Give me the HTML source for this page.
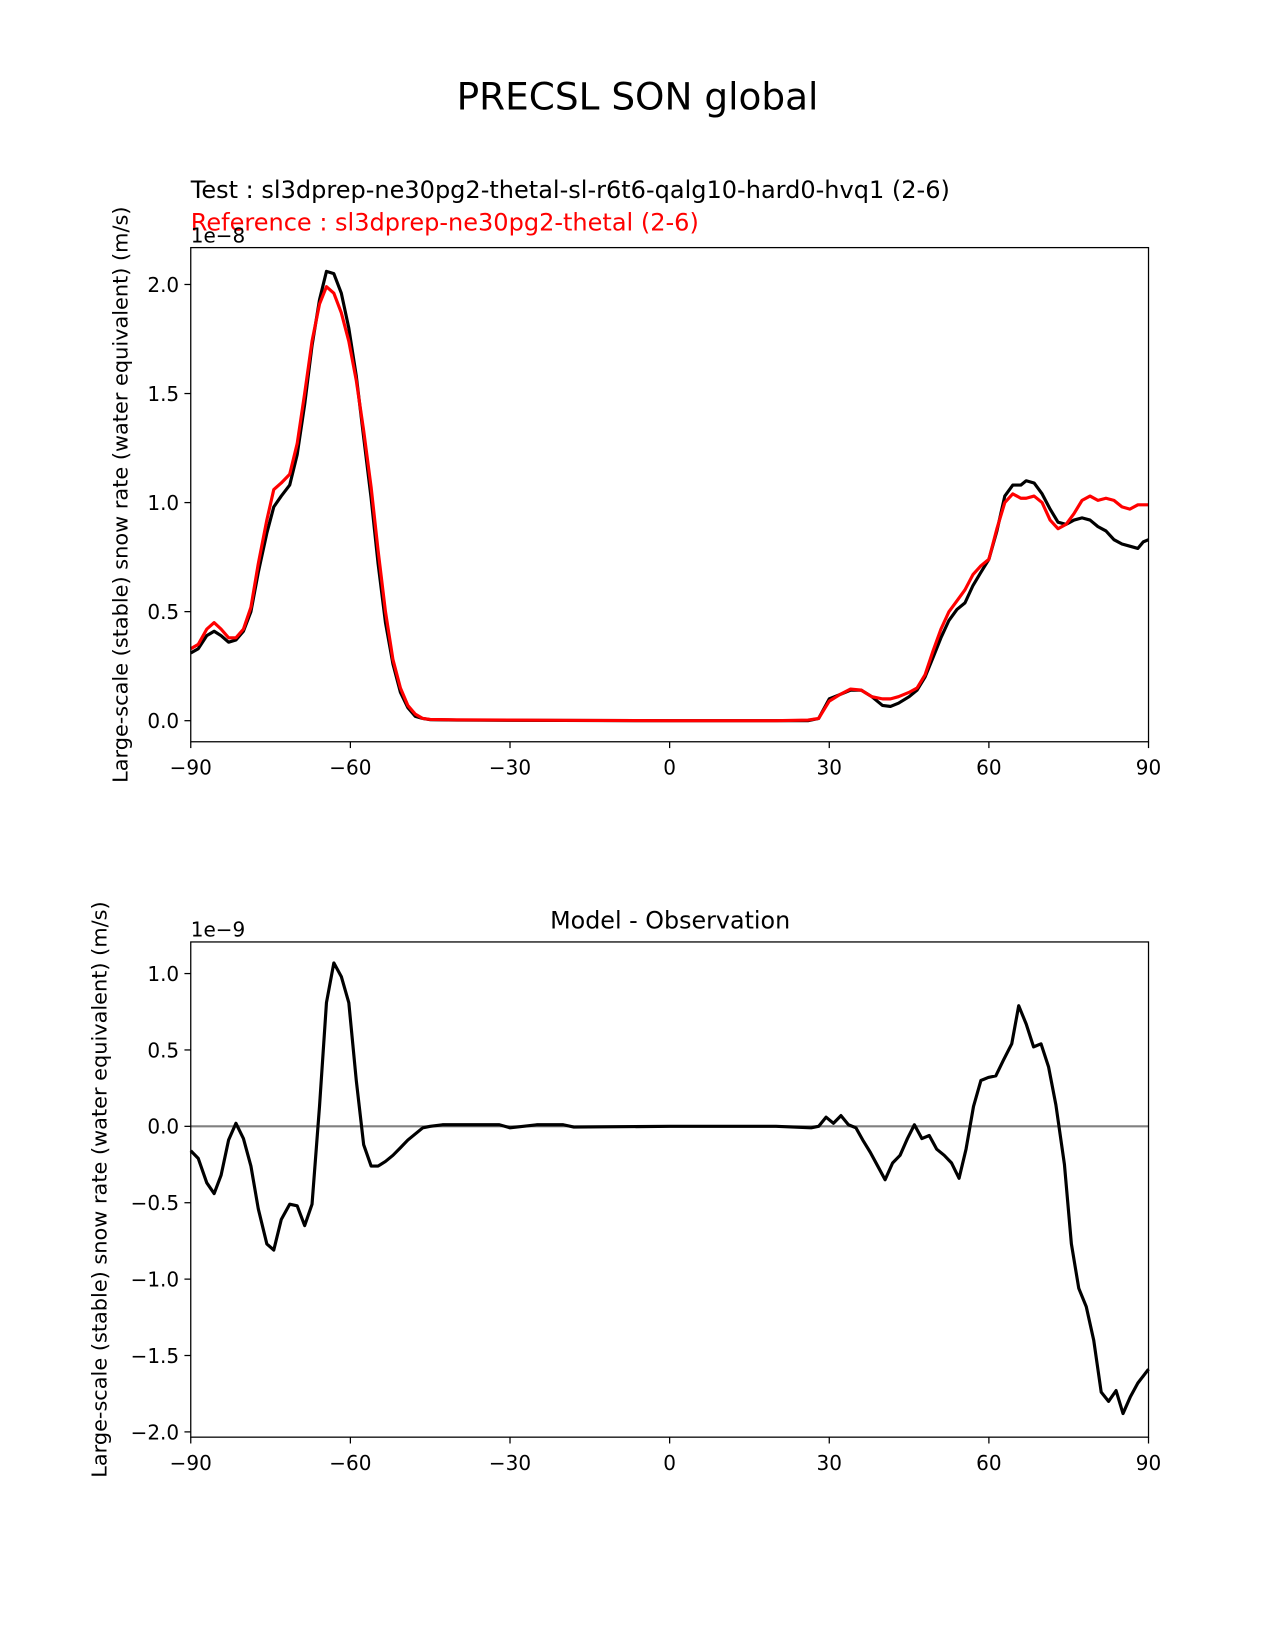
<!DOCTYPE html>
<html><head><meta charset="utf-8"><style>
html,body{margin:0;padding:0;background:#fff;}
svg{display:block;font-family:"DejaVu Sans","Liberation Sans",sans-serif;}
</style></head><body>
<svg id="fig" width="1275" height="1650" viewBox="0 0 1210 1566" xmlns="http://www.w3.org/2000/svg">
<rect width="1210" height="1566" fill="#fff"/>
<text x="605" y="104" font-size="35.5" text-anchor="middle">PRECSL SON global</text>
<text x="181" y="188" font-size="22.8">Test : sl3dprep-ne30pg2-thetal-sl-r6t6-qalg10-hard0-hvq1 (2-6)</text>
<text x="181" y="219" font-size="22.8" fill="#ff0000">Reference : sl3dprep-ne30pg2-thetal (2-6)</text>
<text x="636" y="881" font-size="22.6" text-anchor="middle">Model - Observation</text>
<g id="top"></g>
<g id="bot"></g>
</svg>
<script>
const topLat = [-90,-88.6,-87,-85.6,-84.3,-82.9,-81.5,-80.1,-78.7,-77.3,-75.7,-74.4,-73,-71.4,-70,-68.6,-67.2,-65.8,-64.5,-63.1,-61.7,-60.3,-58.9,-57.5,-56.1,-54.8,-53.4,-52,-50.6,-49.2,-47.8,-46.4,-45,-40,-30,-20,0,20,26,28,30,32,34,36,38,40,41.5,43,45,46.5,48,49.5,51,52.5,54,55.5,57,58.5,60,61.5,63,64.5,66,67,68.5,70,71.5,73,74.5,76,77.5,79,80.5,82,83.5,85,86.5,88,89,90];
const testVals = [0.31,0.33,0.39,0.41,0.39,0.36,0.37,0.41,0.5,0.68,0.86,0.98,1.03,1.08,1.22,1.45,1.72,1.93,2.06,2.05,1.96,1.80,1.58,1.30,1.02,0.72,0.45,0.26,0.13,0.06,0.02,0.01,0.005,0.003,0.002,0.001,0,0,0,0.01,0.10,0.12,0.14,0.14,0.11,0.07,0.065,0.08,0.11,0.14,0.20,0.29,0.38,0.46,0.51,0.54,0.62,0.68,0.74,0.87,1.03,1.08,1.08,1.10,1.09,1.04,0.97,0.91,0.90,0.92,0.93,0.92,0.89,0.87,0.83,0.81,0.80,0.79,0.82,0.83];
const refVals = [0.33,0.35,0.42,0.45,0.42,0.38,0.38,0.42,0.52,0.72,0.92,1.06,1.09,1.13,1.27,1.50,1.74,1.91,1.99,1.96,1.87,1.74,1.56,1.33,1.07,0.78,0.50,0.28,0.15,0.07,0.03,0.01,0.006,0.004,0.003,0.002,0,0,0.003,0.01,0.09,0.12,0.145,0.14,0.11,0.10,0.10,0.11,0.13,0.15,0.21,0.32,0.42,0.50,0.55,0.60,0.67,0.71,0.74,0.88,1.00,1.04,1.02,1.02,1.03,1.00,0.92,0.88,0.90,0.95,1.01,1.03,1.01,1.02,1.01,0.98,0.97,0.99,0.99,0.99];
const diffLat = [-90,-88.6,-87,-85.6,-84.3,-82.9,-81.5,-80.1,-78.7,-77.3,-75.7,-74.4,-73,-71.4,-70,-68.6,-67.2,-65.8,-64.5,-63.1,-61.7,-60.3,-58.9,-57.5,-56.1,-54.8,-53.4,-52,-50.6,-49.2,-47.8,-46.4,-45,-42.7,-35,-32,-30,-25,-20,-18,0,20,26.6,28,29.4,30.8,32.2,33.6,35,36.3,37.7,39.1,40.5,41.9,43.3,44.7,46,47.4,48.8,50.2,51.6,53,54.4,55.7,57.1,58.5,59.9,61.3,62.7,64.3,65.6,67,68.4,69.8,71.2,72.6,74.2,75.5,76.9,78.3,79.7,81.1,82.5,83.9,85.2,86.6,88,90];
const diffVals = [-0.16,-0.21,-0.37,-0.44,-0.32,-0.09,0.02,-0.08,-0.26,-0.54,-0.77,-0.81,-0.61,-0.51,-0.52,-0.65,-0.51,0.13,0.81,1.07,0.98,0.81,0.3,-0.12,-0.26,-0.26,-0.23,-0.19,-0.14,-0.09,-0.05,-0.01,0.0,0.01,0.01,0.01,-0.01,0.01,0.01,-0.005,0,0,-0.01,0.0,0.06,0.02,0.07,0.01,-0.01,-0.09,-0.17,-0.26,-0.35,-0.24,-0.19,-0.08,0.01,-0.08,-0.06,-0.15,-0.19,-0.24,-0.34,-0.15,0.13,0.30,0.32,0.33,0.43,0.54,0.79,0.67,0.52,0.54,0.39,0.14,-0.25,-0.77,-1.06,-1.18,-1.40,-1.74,-1.80,-1.73,-1.88,-1.77,-1.68,-1.59];
const xTicks = [-90,-60,-30,0,30,60,90];
const xTickLabels = ["\u221290","\u221260","\u221230","0","30","60","90"];
const topYTicks = [0,0.5,1.0,1.5,2.0];
const topYLabels = ["0.0","0.5","1.0","1.5","2.0"];
const botYTicks = [-2,-1.5,-1,-0.5,0,0.5,1.0];
const botYLabels = ["\u22122.0","\u22121.5","\u22121.0","\u22120.5","0.0","0.5","1.0"];

const NS="http://www.w3.org/2000/svg";
function mk(parent,tag,attrs){const e=document.createElementNS(NS,tag);for(const k in attrs)e.setAttribute(k,attrs[k]);parent.appendChild(e);return e;}

function drawAxes(g,box,ymin,ymax,yTicks,yLabels,offset,ylabel,ylabelX,name){
  const X=v=>box.x0+(v+90)/180*(box.x1-box.x0);
  const Y=v=>box.y1-(v-ymin)/(ymax-ymin)*(box.y1-box.y0);
  xTicks.forEach((t,i)=>{
    const l=mk(g,'line',{x1:X(t),x2:X(t),y1:box.y1,y2:box.y1+6,stroke:'#000','stroke-width':1.2});
    
    
    const tx=mk(g,'text',{x:X(t),y:box.y1+31,'font-size':19,'text-anchor':'middle'});
    
    
    tx.textContent=xTickLabels[i];
  });
  yTicks.forEach((t,i)=>{
    const l=mk(g,'line',{x1:box.x0-6,x2:box.x0,y1:Y(t),y2:Y(t),stroke:'#000','stroke-width':1.2});
    
    
    const tx=mk(g,'text',{x:box.x0-11,y:Y(t)+7,'font-size':19,'text-anchor':'end'});
    
    
    tx.textContent=yLabels[i];
  });
  const off=mk(g,'text',{x:box.x0,y:box.y0-5,'font-size':19});
  
  
  off.textContent=offset;
  const cy=(box.y0+box.y1)/2;
  const yl=mk(g,'text',{x:ylabelX,y:cy,'font-size':19.8,'text-anchor':'middle',transform:`rotate(-90 ${ylabelX} ${cy})`});
  
  
  yl.textContent=ylabel;
  return {X,Y};
}
function line(g,lat,vals,X,Y,color,name,w){
  const d=lat.map((v,i)=>(i?'L':'M')+X(v).toFixed(1)+' '+Y(vals[i]).toFixed(1)).join(' ');
  const p=mk(g,'path',{d,fill:'none',stroke:color,'stroke-width':w||3,'stroke-linejoin':'round'});
  
  
}
function frame(g,box,name){
  const r=mk(g,'rect',{x:box.x0,y:box.y0,width:box.x1-box.x0,height:box.y1-box.y0,fill:'none',stroke:'#000','stroke-width':1.2});
  
  
}
const topG=document.getElementById('top');
const tb={x0:181,x1:1090,y0:235,y1:704};
const ta=drawAxes(topG,tb,-0.0966,2.1691,topYTicks,topYLabels,'1e\u22128','Large-scale (stable) snow rate (water equivalent) (m/s)',121,'top');
line(topG,topLat,testVals,ta.X,ta.Y,'#000','test-series');
line(topG,topLat,refVals,ta.X,ta.Y,'#ff0000','reference-series');
frame(topG,tb,'top');

const botG=document.getElementById('bot');
const bb={x0:181,x1:1090,y0:894,y1:1364};
const ba=drawAxes(botG,bb,-2.0345,1.2069,botYTicks,botYLabels,'1e\u22129','Large-scale (stable) snow rate (water equivalent) (m/s)',101,'diff');
const z=mk(botG,'line',{x1:bb.x0,x2:bb.x1,y1:ba.Y(0),y2:ba.Y(0),stroke:'#808080','stroke-width':2});


line(botG,diffLat,diffVals,ba.X,ba.Y,'#000','diff-series');
frame(botG,bb,'diff');
</script>
</body></html>
